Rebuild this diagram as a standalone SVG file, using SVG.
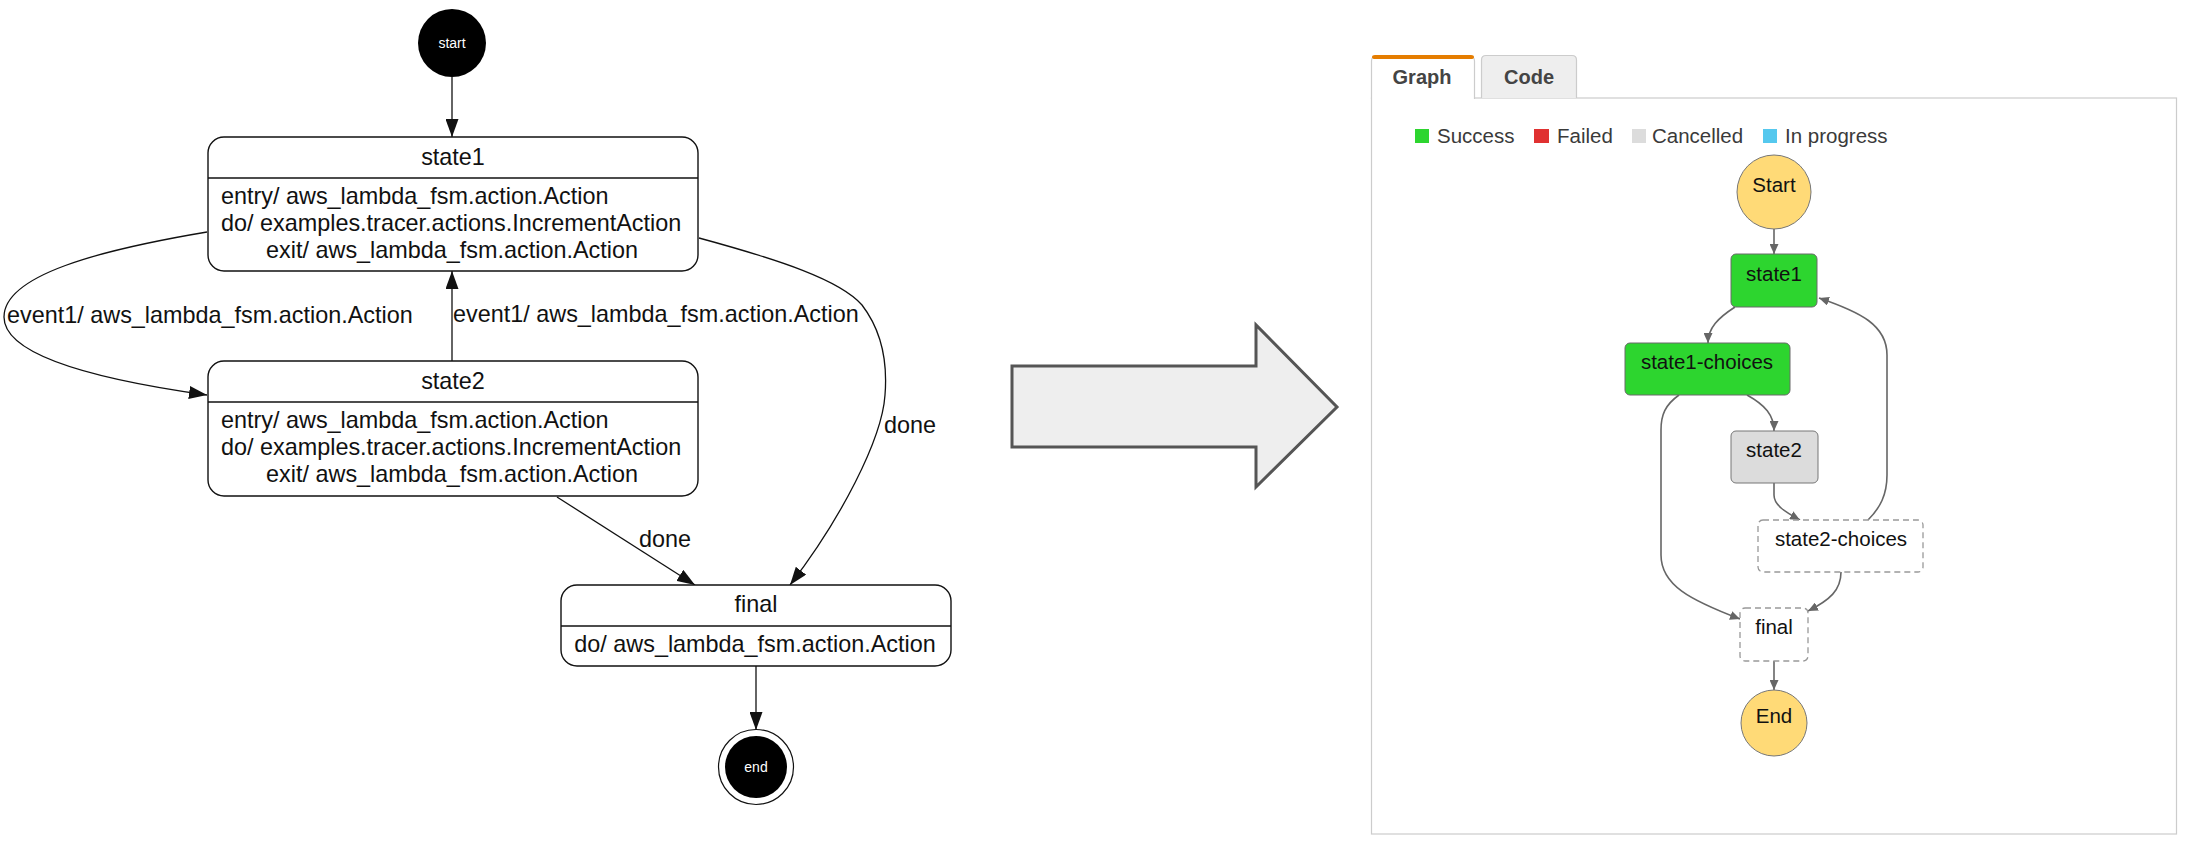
<svg xmlns="http://www.w3.org/2000/svg" width="2188" height="844" viewBox="0 0 2188 844">
<style>
.bg{fill:#ffffff}
.lt{font-family:"Liberation Sans",Arial,sans-serif;font-size:23.4px;fill:#111}
.ltc{font-family:"Liberation Sans",Arial,sans-serif;font-size:23.4px;fill:#111;text-anchor:middle}
.wt{font-family:"Liberation Sans",Arial,sans-serif;font-size:14px;fill:#ffffff;text-anchor:middle}
.box{fill:#ffffff;stroke:#111;stroke-width:1.4}
.sep{stroke:#111;stroke-width:1.4}
.edge{fill:none;stroke:#111;stroke-width:1.3}
.redge{fill:none;stroke:#666;stroke-width:1.6}
.rt{font-family:"Liberation Sans",Arial,sans-serif;font-size:20.5px;fill:#111;text-anchor:middle}
.leg{font-family:"Liberation Sans",Arial,sans-serif;font-size:20.5px;fill:#3a3a3a}
.tab{font-family:"Liberation Sans",Arial,sans-serif;font-size:20px;font-weight:bold;fill:#444;text-anchor:middle}
.ok{fill:#2dd52f;stroke:#6a6a6a;stroke-width:1}
.dash{fill:#ffffff;stroke:#999;stroke-width:1.3;stroke-dasharray:6,4}
.term{fill:#ffda77;stroke:#777;stroke-width:1}
</style>
<defs>
<marker id="ah" markerUnits="userSpaceOnUse" markerWidth="18" markerHeight="13" refX="18" refY="6.5" orient="auto">
<path d="M0,0 L18,6.5 L0,13 z" fill="#111"/>
</marker>
<marker id="rah" markerUnits="userSpaceOnUse" markerWidth="10" markerHeight="9" refX="10" refY="4.5" orient="auto">
<path d="M0,0 L10,4.5 L0,9 z" fill="#666"/>
</marker>
</defs>
<rect class="bg" x="0" y="0" width="2188" height="844"/>

<g id="panel">
<rect x="1371.5" y="98" width="805" height="736" fill="#fff" stroke="#cccccc" stroke-width="1.2"/>
<path d="M1481.5,98 L1481.5,60 Q1481.5,55.5 1486,55.5 L1572,55.5 Q1576.5,55.5 1576.5,60 L1576.5,98" fill="#eeeeee" stroke="#cccccc" stroke-width="1.2"/>
<text class="tab" x="1529" y="84">Code</text>
<path d="M1371.5,99 L1371.5,61 Q1371.5,56 1376.5,56 L1469.5,56 Q1474.5,56 1474.5,61 L1474.5,99" fill="#fff" stroke="#cccccc" stroke-width="1.2"/>
<rect x="1372" y="55" width="102" height="4" rx="3" fill="#e57d00"/>
<text class="tab" x="1422" y="84">Graph</text>
</g>

<g id="legend">
<rect x="1415" y="129" width="14" height="14" fill="#2dd52f"/>
<text class="leg" x="1437" y="143">Success</text>
<rect x="1534" y="129" width="15" height="14" fill="#e03131"/>
<text class="leg" x="1557" y="143">Failed</text>
<rect x="1632" y="129" width="14" height="14" fill="#dcdcdc"/>
<text class="leg" x="1652" y="143">Cancelled</text>
<rect x="1763" y="129" width="14" height="14" fill="#55c8ee"/>
<text class="leg" x="1785" y="143">In progress</text>
</g>

<g id="connectors">
<path class="edge" d="M452,77 L452,137" marker-end="url(#ah)"/>
<path class="edge" d="M452,361 L452,271" marker-end="url(#ah)"/>
<path class="edge" d="M207,232 C100,250 4,275 4,317 C4,356 100,380 207,395" marker-end="url(#ah)"/>
<path class="edge" d="M699,238 C780,260 840,280 862,305 C885,335 887,370 885,395 C882,440 840,520 790,585" marker-end="url(#ah)"/>
<path class="edge" d="M557,497 L695,585" marker-end="url(#ah)"/>
<path class="edge" d="M756,666 L756,730" marker-end="url(#ah)"/>
<text class="lt" x="7" y="323">event1/ aws_lambda_fsm.action.Action</text>
<text class="lt" x="453" y="322">event1/ aws_lambda_fsm.action.Action</text>
<text class="lt" x="884" y="433">done</text>
<text class="lt" x="639" y="547">done</text>

<path class="redge" d="M1774,229 L1774,254" marker-end="url(#rah)"/>
<path class="redge" d="M1735,307 C1718,318 1708,328 1708,343" marker-end="url(#rah)"/>
<path class="redge" d="M1747,395 C1765,405 1774,415 1774,431" marker-end="url(#rah)"/>
<path class="redge" d="M1774,483 L1774,495 C1774,505 1785,512 1800,520" marker-end="url(#rah)"/>
<path class="redge" d="M1868,520 C1880,508 1887,495 1887,475 L1887,355 C1887,325 1860,312 1819,298" marker-end="url(#rah)"/>
<path class="redge" d="M1679,395 C1665,405 1661,415 1661,430 L1661,555 C1661,585 1690,600 1740,619" marker-end="url(#rah)"/>
<path class="redge" d="M1841,572 C1841,590 1830,600 1808,611" marker-end="url(#rah)"/>
<path class="redge" d="M1774,661 L1774,690" marker-end="url(#rah)"/>
</g>

<g id="start">
<circle cx="452" cy="43" r="34" fill="#000"/>
<text class="wt" x="452" y="48">start</text>
</g>

<g id="state1">
<rect class="box" x="208" y="137" width="490" height="134" rx="16"/>
<line class="sep" x1="208" y1="178" x2="698" y2="178"/>
<text class="ltc" x="453" y="165">state1</text>
<text class="lt" x="221" y="204">entry/ aws_lambda_fsm.action.Action</text>
<text class="lt" x="221" y="231">do/ examples.tracer.actions.IncrementAction</text>
<text class="ltc" x="452" y="258">exit/ aws_lambda_fsm.action.Action</text>
</g>

<g id="state2">
<rect class="box" x="208" y="361" width="490" height="135" rx="16"/>
<line class="sep" x1="208" y1="402" x2="698" y2="402"/>
<text class="ltc" x="453" y="389">state2</text>
<text class="lt" x="221" y="428">entry/ aws_lambda_fsm.action.Action</text>
<text class="lt" x="221" y="455">do/ examples.tracer.actions.IncrementAction</text>
<text class="ltc" x="452" y="482">exit/ aws_lambda_fsm.action.Action</text>
</g>

<g id="final">
<rect class="box" x="561" y="585" width="390" height="81" rx="16"/>
<line class="sep" x1="561" y1="626" x2="951" y2="626"/>
<text class="ltc" x="756" y="612">final</text>
<text class="ltc" x="755" y="652">do/ aws_lambda_fsm.action.Action</text>
</g>

<g id="end">
<circle cx="756" cy="767" r="37.5" fill="#fff" stroke="#111" stroke-width="1.2"/>
<circle cx="756" cy="767" r="31" fill="#000"/>
<text class="wt" x="756" y="772">end</text>
</g>

<g id="big-arrow">
<polygon points="1012,366 1256,366 1256,325 1337,407 1256,487 1256,447 1012,447" fill="#eeeeee" stroke="#555" stroke-width="3" stroke-linejoin="miter"/>
</g>

<g id="r-start">
<circle class="term" cx="1774" cy="192" r="37"/>
<text class="rt" x="1774" y="192">Start</text>
</g>
<g id="r-state1">
<rect class="ok" x="1731" y="254" width="86" height="53" rx="5"/>
<text class="rt" x="1774" y="281">state1</text>
</g>
<g id="r-state1-choices">
<rect class="ok" x="1625" y="343" width="165" height="52" rx="5"/>
<text class="rt" x="1707" y="369">state1-choices</text>
</g>
<g id="r-state2">
<rect x="1731" y="431" width="87" height="52" rx="5" fill="#dcdcdc" stroke="#777" stroke-width="1"/>
<text class="rt" x="1774" y="457">state2</text>
</g>
<g id="r-state2-choices">
<rect class="dash" x="1758" y="520" width="165" height="52" rx="5"/>
<text class="rt" x="1841" y="546">state2-choices</text>
</g>
<g id="r-final">
<rect class="dash" x="1740" y="608" width="68" height="53" rx="5"/>
<text class="rt" x="1774" y="634">final</text>
</g>
<g id="r-end">
<circle class="term" cx="1774" cy="723" r="33"/>
<text class="rt" x="1774" y="723">End</text>
</g>
</svg>
